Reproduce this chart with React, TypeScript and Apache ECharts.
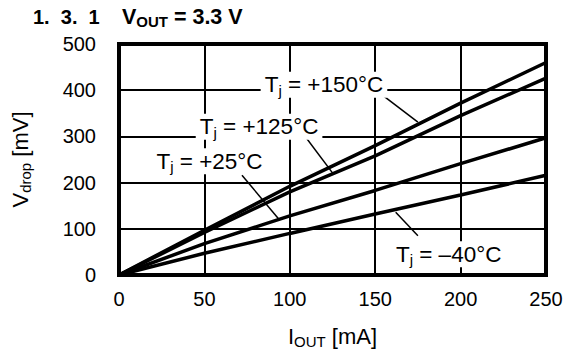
import React, { useEffect, useRef } from "react";
import * as echarts from "echarts";

const currents = [0, 50, 100, 150, 200, 250];
const vdrop150 = [0, 97, 192, 280, 372, 460];
const vdrop125 = [0, 92, 180, 258, 345, 426];
const vdrop25 = [0, 68, 128, 183, 241, 297];
const vdropM40 = [0, 47, 90, 132, 173, 216];

const seriesNames = ["+150°C", "+125°C", "+25°C", "–40°C"];
// label centre [x, y] in data units, leader line start/end in data units
const labelPos = [
  [120, 412],
  [82, 321],
  [53, 246],
  [193, 45],
];
const leaders = [
  [[155, 387], [175, 331]],
  [[110, 295], [125, 221]],
  [[72, 216], [94, 119]],
  [[162, 136], [175, 85]],
];

const xTicks = [0, 250, 50];
const yTicks = [0, 500, 100];

const FONT = "Liberation Sans, Arial, sans-serif";

export default function App() {
  const ref = useRef<HTMLDivElement>(null);
  useEffect(() => {
    if (!ref.current) return;
    const chart = echarts.init(ref.current, undefined, { renderer: "svg" });
    const all = [vdrop150, vdrop125, vdrop25, vdropM40];
    const series = all.map((vals, i) => ({
      type: "line",
      name: seriesNames[i],
      data: currents.map((c, k) => [c, vals[k]]),
      showSymbol: false,
      symbol: "none",
      lineStyle: { color: "#000", width: 3.5 },
      z: 3,
      markPoint: {
        silent: true,
        symbol: "rect",
        symbolSize: 1,
        itemStyle: { color: "rgba(0,0,0,0)" },
        label: {
          show: true,
          position: "inside",
          backgroundColor: "#fff",
          padding: [0, 4],
          formatter: "{t|T}{s|j}{t| = " + seriesNames[i] + "}",
          rich: {
            t: { fontSize: 22.5, fontFamily: FONT, color: "#000", lineHeight: 26 },
            s: { fontSize: 15, fontFamily: FONT, color: "#000", lineHeight: 17, verticalAlign: "bottom" },
          },
        },
        data: [{ coord: labelPos[i] }],
      },
      markLine: {
        silent: true,
        symbol: ["none", "none"],
        label: { show: false },
        lineStyle: { color: "#000", width: 1.5, type: "solid" },
        data: [[{ coord: leaders[i][0] }, { coord: leaders[i][1] }]],
      },
    }));
    chart.setOption({
      animation: false,
      backgroundColor: "#fff",
      title: {
        left: 33,
        top: 5,
        padding: 0,
        text: "{b|1.  3.  1    }{v|V}{s|OUT}{v| = 3.3 V}",
        textStyle: {
          rich: {
            b: { fontSize: 20, fontWeight: "bold", fontFamily: FONT, color: "#000", lineHeight: 24 },
            v: { fontSize: 21.5, fontWeight: "bold", fontFamily: FONT, color: "#000", lineHeight: 24 },
            s: { fontSize: 15, fontWeight: "bold", fontFamily: FONT, color: "#000", lineHeight: 20, verticalAlign: "bottom" },
          },
        },
      },
      grid: {
        left: 119,
        right: 25,
        top: 44,
        bottom: 75,
        show: true,
        borderColor: "#000",
        borderWidth: 4,
        z: 10,
      },
      xAxis: {
        type: "value",
        min: xTicks[0],
        max: xTicks[1],
        interval: xTicks[2],
        name: "{a|I}{s|OUT}{a| [mA]}",
        nameLocation: "middle",
        nameGap: 48,
        nameTextStyle: {
          rich: {
            a: { fontSize: 22, fontFamily: FONT, color: "#000", lineHeight: 26 },
            s: { fontSize: 15, fontFamily: FONT, color: "#000", lineHeight: 22, verticalAlign: "bottom" },
          },
        },
        axisLine: { show: false },
        axisTick: { show: false },
        axisLabel: { fontSize: 20, fontFamily: FONT, color: "#000", margin: 14 },
        splitLine: { show: true, lineStyle: { color: "#000", width: 2 } },
      },
      yAxis: {
        type: "value",
        min: yTicks[0],
        max: yTicks[1],
        interval: yTicks[2],
        name: "{a|V}{s|drop}{a| [mV]}",
        nameLocation: "middle",
        nameRotate: 90,
        nameGap: 86,
        nameTextStyle: {
          rich: {
            a: { fontSize: 22, fontFamily: FONT, color: "#000", lineHeight: 26 },
            s: { fontSize: 15, fontFamily: FONT, color: "#000", lineHeight: 18, verticalAlign: "bottom" },
          },
        },
        axisLine: { show: false },
        axisTick: { show: false },
        axisLabel: { fontSize: 20, fontFamily: FONT, color: "#000", margin: 23 },
        splitLine: { show: true, lineStyle: { color: "#000", width: 2 } },
      },
      series,
    });
    return () => chart.dispose();
  }, []);
  return (
    <div
      ref={ref}
      style={{ position: "fixed", left: 0, top: 0, width: 571, height: 354 }}
    />
  );
}
